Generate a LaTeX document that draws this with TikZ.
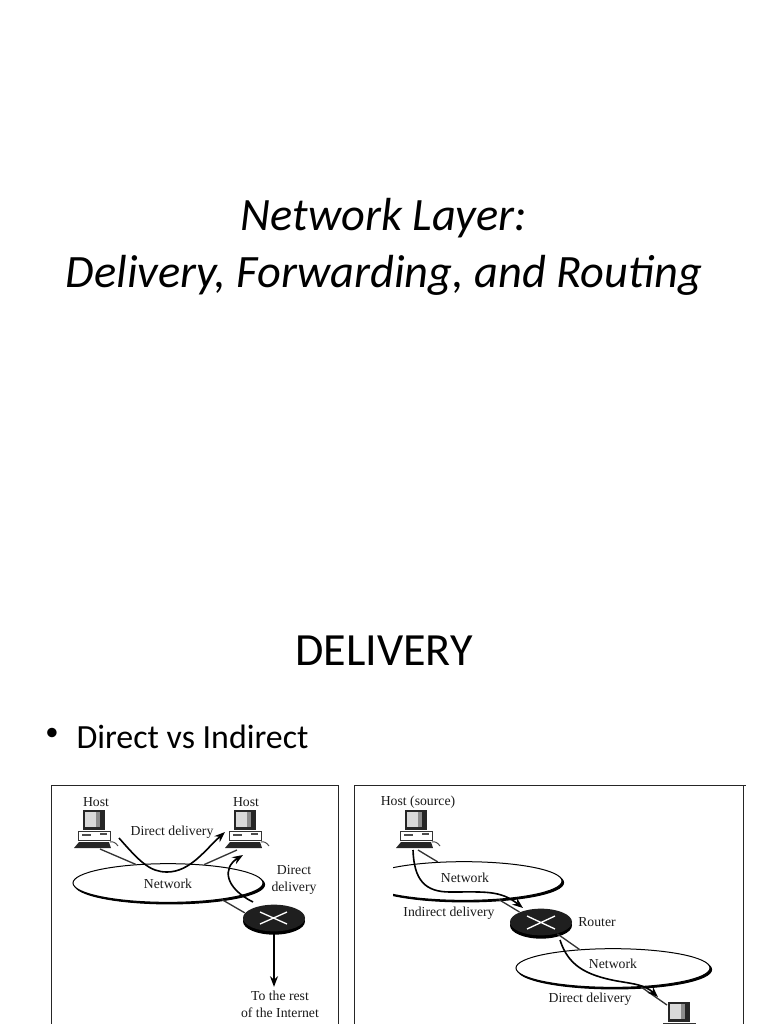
\documentclass[tikz,border=0pt]{standalone}
\usepackage{fontspec}
\setmainfont{Carlito}
\newfontfamily\figfont{Liberation Serif}
\usetikzlibrary{shapes.geometric,arrows.meta}

\tikzset{every picture/.style={line width=0.75pt}}
\tikzset{
  figtext/.style={inner sep=0.75pt,align=center,font=\figfont\fontsize{10.3}{12}\selectfont,text=black!90},
  netcloud/.style={ellipse,draw=black,line width=0.75pt,fill=white,minimum width=#1,minimum height=29pt,inner sep=0pt,
    preaction={draw=black,fill=black,transform canvas={shift={(1.2pt,-1.2pt)}}}},
  routerbox/.style={ellipse,fill=black!88,minimum width=#1,minimum height=20pt,inner sep=0pt,
    preaction={fill=black,transform canvas={shift={(0pt,-2.5pt)}}}},
  linkline/.style={draw=black!80,line width=1pt},
  route/.style={draw=black,line width=1.2pt,-{Stealth[length=8pt,width=6pt]}},
  hostpc/.pic={
    \fill[black!85] (-13,20) rectangle (9,0);
    \fill[black!15] (-11,18) rectangle (0,3);
    \fill[black!45] (0,18) rectangle (4,3);
    \draw[black!80,fill=white] (-18,-1) rectangle (14,-10);
    \draw[black!70,line width=1.5pt] (-14,-5) -- (-5,-5) (4,-4) -- (11,-4);
    \fill[black!85] (-22,-18) -- (15,-18) -- (13,-12) -- (-17,-12) -- cycle;
    \draw[black!70] (14,-12) .. controls (17,-11) and (20,-13) .. (22,-16);
  }
}

\begin{document}
\begin{tikzpicture}[x=0.75pt,y=0.75pt,yscale=-1,xscale=1]
\useasboundingbox (0,0) rectangle (768,1024);

% Titles
\node (titleA) at (384,218) {\fontsize{34.8}{38}\selectfont\itshape Network Layer:};
\node (titleB) at (384,275) {\fontsize{34.8}{38}\selectfont\itshape Delivery, Forwarding, and Routing};
\node (heading) at (384,651) {\fontsize{34.6}{38}\selectfont DELIVERY};
\node (bullet) at (52,734) {\fontsize{20}{24}\selectfont •};
\node [anchor=west,inner sep=0pt] (item) at (76,737) {\fontsize{25.4}{28}\selectfont Direct vs Indirect};

% Panels
\draw [black!85] (51,1024) -- (51,785) -- (338,785) -- (338,1024);
\draw [black!85] (354,1024) -- (354,785) -- (746,785);
\draw [black!85] (743,785) -- (743,1024);

% Left panel
\coordinate (hostA) at (96,830);
\coordinate (hostB) at (247,830);
\pic at (hostA) {hostpc};
\pic at (hostB) {hostpc};
\node [netcloud=190pt*0.75] (netA) at (168,883) {};
\node [routerbox=62pt*0.75] (routerA) at (274,918) {};
\draw [white,line width=1pt] (260,912) -- (287,924) (260,924) -- (287,912);
\draw [linkline] (100,849) -- (netA.150);
\draw [linkline] (237,850) -- (netA.27);
\draw [linkline] (netA.-17) -- (routerA.170);

\node [figtext] (labHostA) at (96,802) {Host};
\node [figtext] (labHostB) at (246,802) {Host};
\node [figtext] (labDirectA) at (172,832) {Direct delivery};
\node [figtext] (labNetA) at (168,884) {Network};
\node [figtext] (labDirectB) at (294,880) {Direct\\[1pt]delivery};
\node [figtext] (labRest) at (280,1004) {To the rest\\[1pt]of the Internet};

\coordinate (startA) at (119,838);
\coordinate (endA) at (225,832);
\coordinate (startB) at (253,902);
\coordinate (endB) at (243,855);
\draw [route] (startA) .. controls (140,862) and (150,872) .. (167,872) .. controls (190,872) and (205,850) .. (endA);
\draw [route] (startB) .. controls (225,888) and (222,868) .. (endB);
\draw [route] (routerA.south) -- ++(0,55);

% Right panel
\coordinate (hostC) at (418,830);
\pic at (hostC) {hostpc};
\begin{scope}
\clip (393,850) rectangle (575,915);
\node [netcloud=196pt*0.75] (netB) at (464,881) {};
\end{scope}
\node [netcloud=194pt*0.75] (netC) at (613,968) {};
\node [routerbox=62pt*0.75] (routerB) at (541,922) {};
\draw [white,line width=1pt] (527,916) -- (555,929) (527,929) -- (555,916);
\coordinate (hostD) at (681,1022);
\begin{scope}
\clip (640,995) rectangle (720,1024);
\pic at (hostD) {hostpc};
\end{scope}
\draw [linkline] (418,850) -- (netB.144);
\draw [linkline] (netB.-28) -- (routerB.155);
\draw [linkline] (routerB.-36) -- (netC.151);
\draw [linkline] (netC.-34) -- (667,1005);

\node [figtext] (labHostC) at (418,802) {Host (source)};
\node [figtext] (labNetB) at (465,878) {Network};
\node [figtext] (labIndirect) at (449,913) {Indirect delivery};
\node [figtext] (labRouter) at (597,922) {Router};
\node [figtext] (labNetC) at (613,964) {Network};
\node [figtext] (labDirectC) at (590,999) {Direct delivery};

\coordinate (startC) at (413,850);
\coordinate (endC) at (523,908);
\coordinate (startD) at (560,940);
\coordinate (endD) at (658,997);
\draw [route] (startC) .. controls (414,880) and (425,892) .. (450,892) .. controls (485,892) and (500,890) .. (endC);
\draw [route] (startD) .. controls (568,965) and (585,975) .. (617,981) .. controls (635,984) and (645,985) .. (endD);

\end{tikzpicture}
\end{document}
